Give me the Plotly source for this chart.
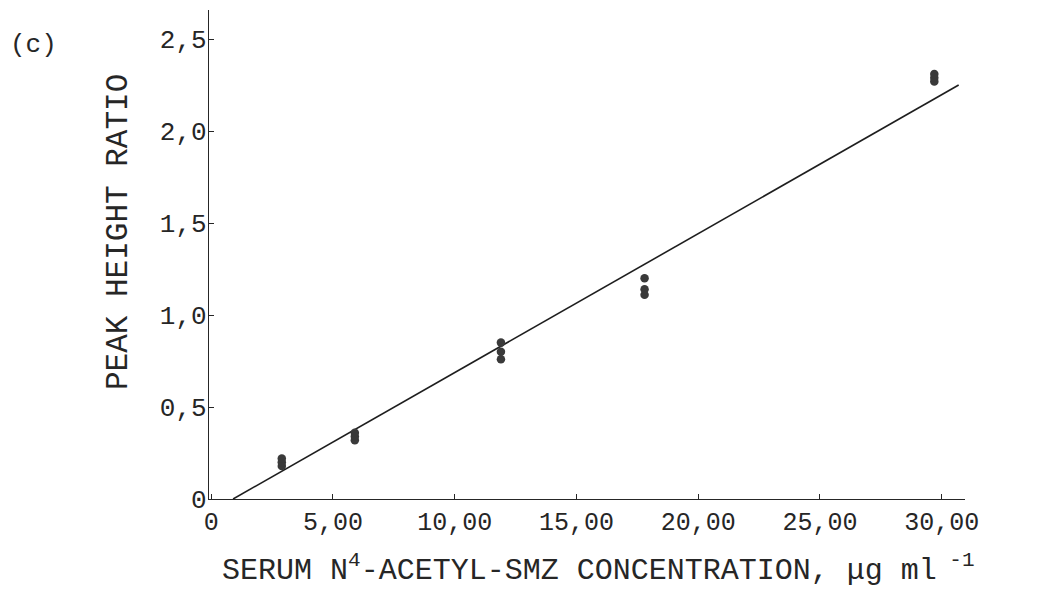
import plotly.graph_objects as go

# Data
conc_x = [2.9, 2.9, 2.9, 5.9, 5.9, 5.9, 11.9, 11.9, 11.9, 17.8, 17.8, 17.8, 29.7, 29.7, 29.7]
ratio_y = [0.18, 0.20, 0.22, 0.32, 0.34, 0.36, 0.76, 0.80, 0.85, 1.11, 1.14, 1.20, 2.27, 2.29, 2.31]
fit_x = [0.9, 30.7]
fit_y = [0.0, 2.25]

x_tickvals = [0, 5, 10, 15, 20, 25, 30]
x_ticktext = ["0", "5,00", "10,00", "15,00", "20,00", "25,00", "30,00"]
y_tickvals = [0, 0.5, 1.0, 1.5, 2.0, 2.5]
y_ticktext = ["0", "0,5", "1,0", "1,5", "2,0", "2,5"]

FONT = "Liberation Mono, Courier New, monospace"
INK = "#262626"

fig = go.Figure()
fig.add_trace(go.Scatter(x=fit_x, y=fit_y, mode="lines",
                         line=dict(color="#1e1e1e", width=1.6), showlegend=False))
fig.add_trace(go.Scatter(x=conc_x, y=ratio_y, mode="markers",
                         marker=dict(color="#3a3a3a", size=8.5, line=dict(width=0)),
                         showlegend=False))

L, R, T, B = 209, 75, 10, 97
W, H = 1040, 596
pw, ph = W - L - R, H - T - B

def px(x):
    return (x - L) / pw

def py(y):
    return (H - B - y) / ph

fig.update_layout(
    width=W, height=H,
    margin=dict(l=L, r=R, t=T, b=B, pad=0),
    paper_bgcolor="white", plot_bgcolor="white",
    font=dict(family=FONT, color=INK, size=25),
    xaxis=dict(range=[-0.09, 30.96], tickvals=x_tickvals, ticktext=x_ticktext,
               showgrid=False, zeroline=False, showline=True, linecolor=INK, linewidth=1.4,
               ticks="inside", ticklen=5, tickcolor=INK, tickwidth=1,
               tickfont=dict(size=25, family=FONT, color=INK)),
    yaxis=dict(range=[0, 2.658], tickvals=y_tickvals, ticktext=y_ticktext,
               showgrid=False, zeroline=False, showline=True, linecolor=INK, linewidth=1.4,
               ticks="inside", ticklen=5, tickcolor=INK, tickwidth=1,
               ticklabelstandoff=-4,
               tickfont=dict(size=26, family=FONT, color=INK)),
    annotations=[
        dict(text="PEAK HEIGHT RATIO", xref="paper", yref="paper",
             x=px(118), y=py(232), xanchor="center", yanchor="middle",
             textangle=-90, showarrow=False, font=dict(size=31, family=FONT, color=INK)),
        dict(text="SERUM N<sup>4</sup>-ACETYL-SMZ CONCENTRATION, μg ml<sup> -1</sup>",
             xref="paper", yref="paper", x=px(220), y=py(568),
             xanchor="left", yanchor="middle", showarrow=False,
             font=dict(size=30, family=FONT, color=INK)),
        dict(text="(c)", xref="paper", yref="paper", x=px(8), y=py(45),
             xanchor="left", yanchor="middle", showarrow=False,
             font=dict(size=26, family=FONT, color=INK)),
    ],
)

fig.write_html("out.html")
